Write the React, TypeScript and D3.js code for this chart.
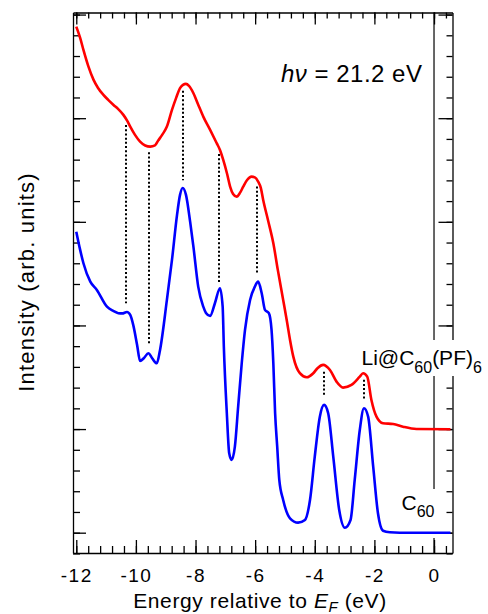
import { useEffect, useRef } from "react";
import * as d3 from "d3";

const WIDTH = 488;
const HEIGHT = 614;
const MARGIN = { top: 12.5, right: 35.5, bottom: 61, left: 73 };
const FONT = "'Liberation Sans', Arial, Helvetica, sans-serif";

// Li@C60(PF)6 spectrum: energy (eV) and intensity (arb. units)
const liEnergy = [-12.0, -11.87, -11.76, -11.6, -11.42, -11.27, -11.09, -10.93, -10.75, -10.6, -10.42, -10.29, -10.19, -10.03, -9.86, -9.69, -9.52, -9.36, -9.26, -9.12, -8.96, -8.79, -8.65, -8.52, -8.42, -8.32, -8.22, -8.07, -7.92, -7.74, -7.51, -7.29, -7.18, -7.07, -6.94, -6.84, -6.74, -6.62, -6.51, -6.4, -6.27, -6.12, -6.01, -5.9, -5.81, -5.73, -5.57, -5.39, -5.24, -5.06, -4.93, -4.83, -4.72, -4.5, -4.27, -4.05, -3.9, -3.72, -3.49, -3.27, -3.05, -2.77, -2.49, -2.38, -2.24, -2.1, -1.93, -1.71, -1.37, -1.04, -0.59, 0.55];
const liIntensity = [4.884, 4.775, 4.659, 4.505, 4.37, 4.292, 4.225, 4.177, 4.128, 4.09, 4.032, 3.974, 3.919, 3.839, 3.774, 3.737, 3.726, 3.737, 3.781, 3.839, 3.919, 4.08, 4.196, 4.29, 4.321, 4.331, 4.312, 4.241, 4.138, 4.015, 3.887, 3.759, 3.694, 3.598, 3.462, 3.34, 3.269, 3.243, 3.279, 3.34, 3.404, 3.436, 3.429, 3.388, 3.327, 3.211, 3.018, 2.793, 2.536, 2.246, 2.034, 1.86, 1.699, 1.539, 1.5, 1.539, 1.59, 1.619, 1.57, 1.458, 1.4, 1.426, 1.506, 1.539, 1.506, 1.281, 1.12, 1.056, 1.049, 1.023, 1.001, 0.998];

// C60 spectrum
const c60Energy = [-12.0, -11.87, -11.76, -11.53, -11.31, -10.97, -10.76, -10.59, -10.46, -10.3, -10.19, -10.09, -9.96, -9.86, -9.73, -9.58, -9.46, -9.3, -9.19, -8.96, -8.79, -8.62, -8.52, -8.43, -8.32, -8.18, -8.07, -7.91, -7.74, -7.65, -7.51, -7.35, -7.18, -7.09, -7.05, -6.95, -6.87, -6.79, -6.68, -6.57, -6.45, -6.34, -6.17, -6.01, -5.9, -5.78, -5.67, -5.54, -5.45, -5.39, -5.33, -5.26, -5.19, -5.06, -4.83, -4.56, -4.33, -4.16, -4.0, -3.83, -3.69, -3.55, -3.38, -3.18, -2.99, -2.8, -2.66, -2.49, -2.35, -2.21, -2.04, -1.88, -1.71, -1.48, -1.15, 0.55];
const c60Intensity = [2.905, 2.729, 2.6, 2.423, 2.343, 2.181, 2.14, 2.118, 2.116, 2.13, 2.101, 2.005, 1.812, 1.657, 1.686, 1.732, 1.686, 1.635, 1.764, 2.246, 2.632, 3.067, 3.26, 3.327, 3.26, 2.999, 2.758, 2.375, 2.181, 2.121, 2.092, 2.214, 2.359, 2.181, 1.795, 1.153, 0.766, 0.702, 0.83, 1.216, 1.635, 1.957, 2.246, 2.375, 2.423, 2.311, 2.15, 2.118, 1.957, 1.635, 1.153, 0.83, 0.509, 0.316, 0.139, 0.097, 0.123, 0.316, 0.734, 1.12, 1.233, 1.153, 0.734, 0.219, 0.048, 0.123, 0.509, 0.991, 1.201, 1.12, 0.637, 0.187, 0.019, 0.004, 0, 0];

// energies of the dotted guide lines between matching features
const peakEnergies = [-10.33, -9.57, -8.41, -7.21, -5.93, -3.68, -2.36];

const xMajorTicks = [-12, -10, -8, -6, -4, -2, 0];
const xTickLabels = ["-12", "-10", "-8", "-6", "-4", "-2", "0"];
const xMinorTicks = d3.range(0, 32).map((i) => -12 + i * 0.4);
const yMajorTicks = [0, 1, 2, 3, 4, 5];
const yMinorTicks = d3.range(-1, 26).map((i) => i * 0.2);

const X_DOMAIN = [-12.11, 0.62];
const Y_DOMAIN = [-0.196, 5.02];

const interp = (xs: number[], ys: number[], e: number) => {
  const i = d3.bisectLeft(xs, e);
  if (i <= 0) return ys[0];
  if (i >= xs.length) return ys[ys.length - 1];
  const t = (e - xs[i - 1]) / (xs[i] - xs[i - 1]);
  return ys[i - 1] + t * (ys[i] - ys[i - 1]);
};

const Chart = () => {
  const axesRef = useRef<SVGGElement>(null);
  const iw = WIDTH - MARGIN.left - MARGIN.right;
  const ih = HEIGHT - MARGIN.top - MARGIN.bottom;

  const xScale = d3.scaleLinear().domain(X_DOMAIN).range([0, iw]);
  const yScale = d3.scaleLinear().domain(Y_DOMAIN).range([ih, 0]);

  const line = d3
    .line<[number, number]>()
    .x((d) => xScale(d[0]))
    .y((d) => yScale(d[1]))
    .curve(d3.curveMonotoneX);

  const liPath = line(liEnergy.map((e, i) => [e, liIntensity[i]]));
  const c60Path = line(c60Energy.map((e, i) => [e, c60Intensity[i]]));

  useEffect(() => {
    const g = d3.select(axesRef.current);
    g.selectAll("*").remove();

    const style = (s: any) => {
      s.selectAll("line").attr("stroke", "#000").attr("stroke-width", 1.3);
      s.selectAll("path").attr("stroke", "#000").attr("stroke-width", 1.3);
      s.attr("font-family", FONT).attr("font-size", 19);
      s.selectAll("text").attr("fill", "#000").attr("letter-spacing", 1.5);
    };
    const noDomain = (s: any) => s.select(".domain").remove();

    // bottom
    g.append("g").attr("transform", `translate(0,${ih})`)
      .call(d3.axisBottom(xScale).tickValues(xMinorTicks).tickSize(-7).tickFormat(() => ""))
      .call(noDomain).call(style);
    g.append("g").attr("transform", `translate(0,${ih})`)
      .call(d3.axisBottom(xScale).tickValues(xMajorTicks).tickSize(-13).tickSizeOuter(0).tickPadding(16)
        .tickFormat((d, i) => xTickLabels[i]))
      .call(style);
    // top
    g.append("g")
      .call(d3.axisTop(xScale).tickValues(xMinorTicks).tickSize(-6).tickFormat(() => ""))
      .call(noDomain).call(style);
    g.append("g")
      .call(d3.axisTop(xScale).tickValues(xMajorTicks).tickSize(-12).tickSizeOuter(0).tickFormat(() => ""))
      .call(style);
    // left
    g.append("g")
      .call(d3.axisLeft(yScale).tickValues(yMinorTicks).tickSize(-7).tickFormat(() => ""))
      .call(noDomain).call(style);
    g.append("g")
      .call(d3.axisLeft(yScale).tickValues(yMajorTicks).tickSize(-13).tickSizeOuter(0).tickFormat(() => ""))
      .call(style);
    // right
    g.append("g").attr("transform", `translate(${iw},0)`)
      .call(d3.axisRight(yScale).tickValues(yMinorTicks).tickSize(-6).tickFormat(() => ""))
      .call(noDomain).call(style);
    g.append("g").attr("transform", `translate(${iw},0)`)
      .call(d3.axisRight(yScale).tickValues(yMajorTicks).tickSize(-14).tickSizeOuter(0).tickFormat(() => ""))
      .call(style);
  }, [iw, ih]);

  return (
    <svg
      width={WIDTH}
      height={HEIGHT}
      style={{ position: "absolute", left: 0, top: 0, background: "#fff" }}
      fontFamily={FONT}
    >
      <g transform={`translate(${MARGIN.left},${MARGIN.top})`}>
        <g ref={axesRef} />
        {/* Fermi level */}
        <line x1={xScale(0)} x2={xScale(0)} y1={0} y2={ih} stroke="#000" strokeWidth={1.2} />
      </g>

      {/* label backgrounds */}
      <rect x={359} y={340} width={124} height={36} fill="#fff" />
      <rect x={399} y={489} width={40} height={49} fill="#fff" />

      <g transform={`translate(${MARGIN.left},${MARGIN.top})`}>
        {peakEnergies.map((e) => (
          <line
            key={e}
            x1={Math.round(xScale(e))}
            x2={Math.round(xScale(e))}
            y1={yScale(interp(liEnergy, liIntensity, e)) + 6}
            y2={yScale(interp(c60Energy, c60Intensity, e)) - 9}
            stroke="#000"
            strokeWidth={2}
            strokeDasharray="2 2.2"
          />
        ))}
        <path d={liPath ?? ""} fill="none" stroke="#ff0000" strokeWidth={2.6} strokeLinejoin="round" />
        <path d={c60Path ?? ""} fill="none" stroke="#0000ff" strokeWidth={2.6} strokeLinejoin="round" />
      </g>

      <text x={281} y={82} fontSize={24} letterSpacing={0.5} fill="#000">
        <tspan fontStyle="italic">hν</tspan> = 21.2 eV
      </text>

      <text x={361.5} y={365} fontSize={21} fill="#000">
        Li@C<tspan fontSize={16} dy={7.5}>60</tspan>
        <tspan dy={-7.5}>(PF)</tspan>
        <tspan fontSize={16} dy={7.5}>6</tspan>
      </text>

      <text x={401.5} y={510} fontSize={21} fill="#000">
        C<tspan fontSize={16} dy={7}>60</tspan>
      </text>

      <text x={260} y={608} fontSize={21} letterSpacing={0.6} textAnchor="middle" fill="#000">
        Energy relative to <tspan fontStyle="italic">E</tspan>
        <tspan fontStyle="italic" fontSize={15} dy={4}>F</tspan>
        <tspan dy={-4}> (eV)</tspan>
      </text>

      <text
        transform="translate(34,282) rotate(-90)"
        fontSize={22}
        letterSpacing={1.2}
        textAnchor="middle"
        fill="#000"
      >
        Intensity (arb. units)
      </text>
    </svg>
  );
};

export default function App() {
  return <Chart />;
}
